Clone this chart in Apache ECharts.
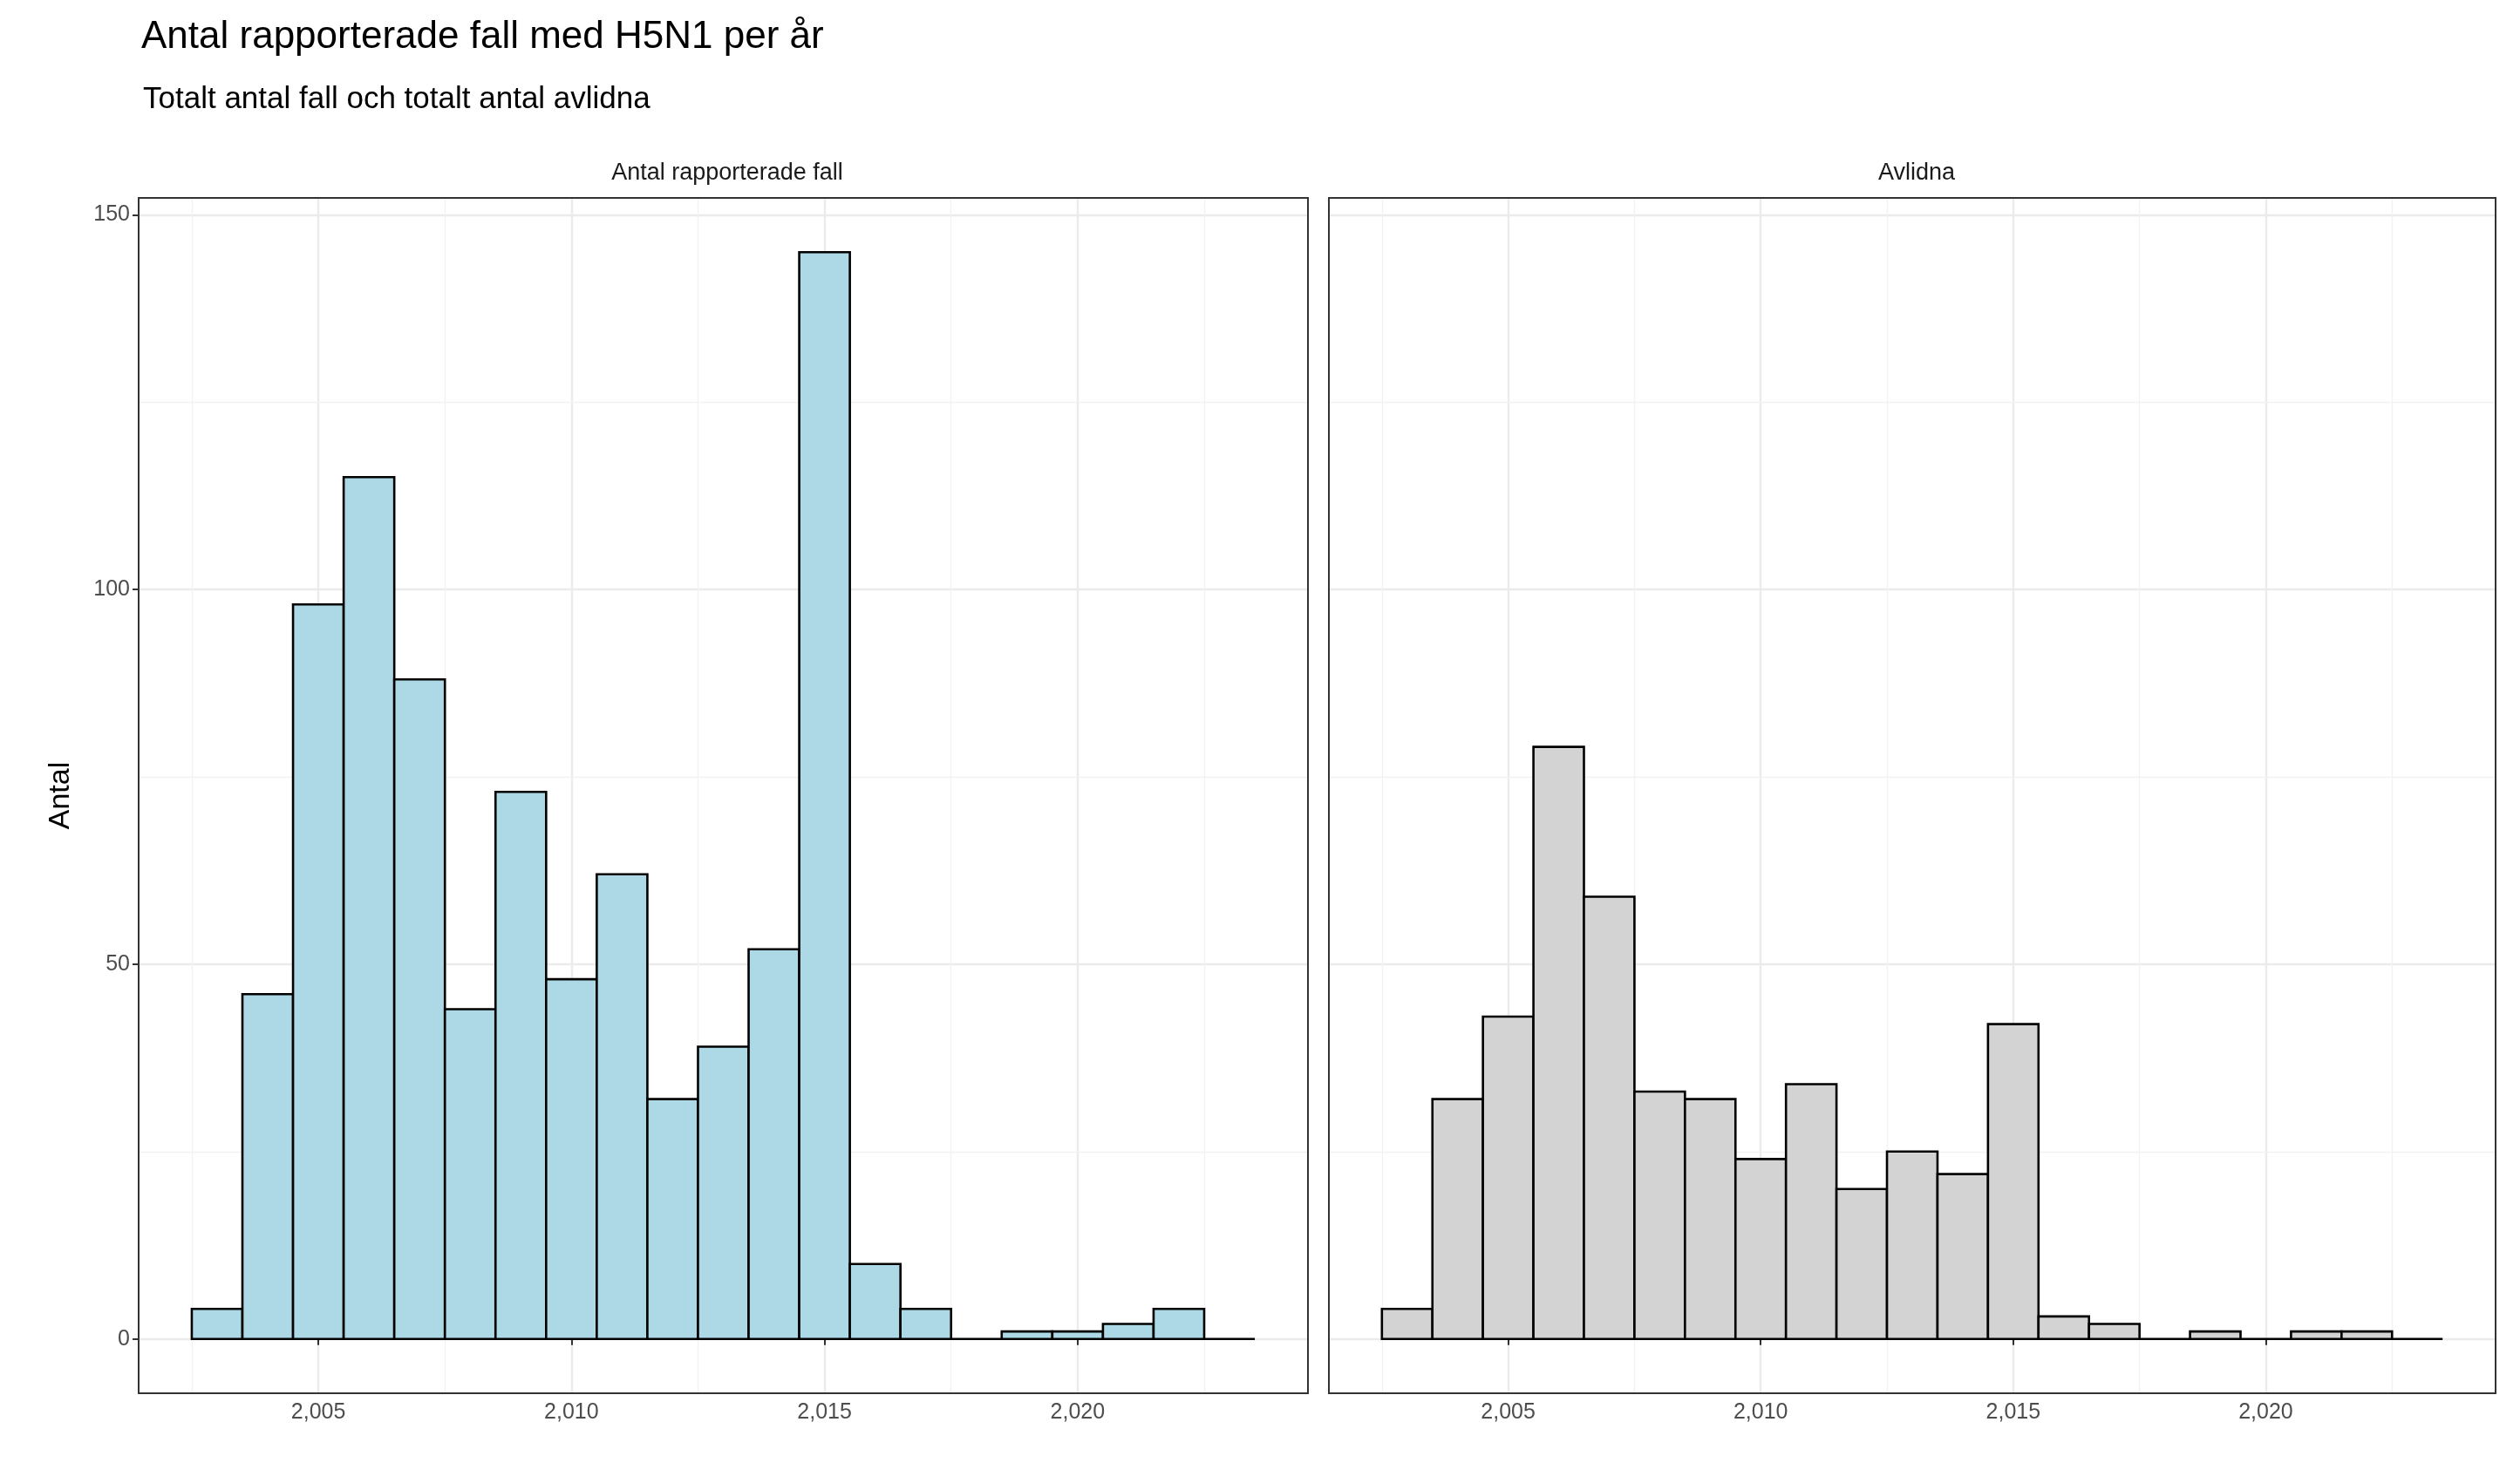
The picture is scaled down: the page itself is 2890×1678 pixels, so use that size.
<!DOCTYPE html>
<html><head><meta charset="utf-8">
<script src="https://cdn.jsdelivr.net/npm/echarts@6/dist/echarts.min.js"></script>
<style>html,body{margin:0;background:#fff}#chart{width:2890px;height:1678px}</style>
</head><body><div id="chart"></div>
<script>
var years = [2003,2004,2005,2006,2007,2008,2009,2010,2011,2012,2013,2014,2015,2016,2017,2018,2019,2020,2021,2022,2023];
var cases = [4,46,98,115,88,44,73,48,62,32,39,52,145,10,4,0,1,1,2,4,0];
var deaths = [4,32,43,79,59,33,32,24,34,20,25,22,42,3,2,0,1,0,1,1,0];
var xTicks = [2005,2010,2015,2020];
var xMinor = [2002.5,2007.5,2012.5,2017.5,2022.5];
var yTicks = [0,50,100,150];
var yMinor = [25,75,125];

var font = 'Liberation Sans, Arial, sans-serif';
var chart = echarts.init(document.getElementById('chart'));

function histo(idx, values, fill){
  return {
    type:'custom', xAxisIndex:idx, yAxisIndex:idx, z:5,
    data: years.map(function(y,i){return [y, values[i]];}),
    renderItem:function(params, api){
      var x = api.value(0), v = api.value(1);
      var p0 = api.coord([x-0.5, 0]), p1 = api.coord([x+0.5, v]);
      return {type:'rect', shape:{x:p0[0], y:p1[1], width:p1[0]-p0[0], height:p0[1]-p1[1]},
        style:{fill:fill, stroke:'#000', lineWidth:2.6}};
    }
  };
}
function minorLines(idx){
  var d = xMinor.map(function(v){return {xAxis:v};}).concat(yMinor.map(function(v){return {yAxis:v};}));
  return {type:'line', xAxisIndex:idx, yAxisIndex:idx, data:[], silent:true, z:1,
    markLine:{silent:true, symbol:'none', label:{show:false}, animation:false,
      lineStyle:{color:'#f2f2f2', width:1.3, type:'solid'}, data:d}};
}
function xAx(idx){
  return {type:'value', gridIndex:idx, min:2001.45, max:2024.55,
    axisLine:{show:false}, axisTick:{show:true, customValues:xTicks, length:7, lineStyle:{color:'#333', width:2}},
    axisLabel:{customValues:xTicks, color:'#4d4d4d', fontSize:25, fontFamily:font, margin:10},
    splitLine:{show:true, lineStyle:{color:'#ebebeb', width:2.4}}};
}
function yAx(idx, labels){
  return {type:'value', gridIndex:idx, min:-7.25, max:152.25,
    axisLine:{show:false}, axisTick:{show:labels, customValues:yTicks, length:7, lineStyle:{color:'#333', width:2}},
    axisLabel:{show:labels, customValues:yTicks, color:'#4d4d4d', fontSize:25, fontFamily:font, margin:10},
    splitLine:{show:true, lineStyle:{color:'#ebebeb', width:2.4}},
    name: labels ? 'Antal' : '', nameLocation:'middle', nameGap:72, nameRotate:90,
    nameTextStyle:{color:'#000', fontSize:34, fontFamily:font}};
}
chart.setOption({
  animation:false,
  title:[
    {text:'Antal rapporterade fall med H5N1 per år', left:157, top:16, textStyle:{fontSize:44, fontWeight:'normal', color:'#000', fontFamily:font}},
    {text:'Totalt antal fall och totalt antal avlidna', left:159, top:92, textStyle:{fontSize:35, fontWeight:'normal', color:'#000', fontFamily:font}},
    {text:'Antal rapporterade fall', left:829, top:180, textAlign:'center', textStyle:{fontSize:27, fontWeight:'normal', color:'#1a1a1a', fontFamily:font}},
    {text:'Avlidna', left:2193, top:180, textAlign:'center', textStyle:{fontSize:27, fontWeight:'normal', color:'#1a1a1a', fontFamily:font}}
  ],
  grid:[
    {left:159, top:227, width:1341, height:1371, show:true, borderColor:'#333', borderWidth:2, backgroundColor:'transparent', z:10},
    {left:1524, top:227, width:1338, height:1371, show:true, borderColor:'#333', borderWidth:2, backgroundColor:'transparent', z:10}
  ],
  xAxis:[xAx(0), xAx(1)],
  yAxis:[yAx(0,true), yAx(1,false)],
  series:[minorLines(0), minorLines(1), histo(0, cases, '#add8e6'), histo(1, deaths, '#d3d3d3')]
});
</script></body></html>
